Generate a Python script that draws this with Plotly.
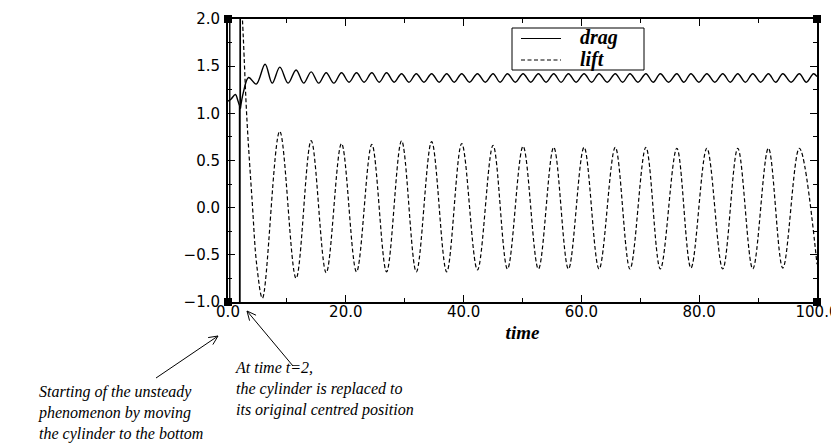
import math
import plotly.graph_objects as go

# ---------------- data ----------------
x_range = [0.0, 100.0]
y_range = [-1.0, 2.0]
x_tickvals = [0, 20, 40, 60, 80, 100]
x_ticktext = ["0.0", "20.0", "40.0", "60.0", "80.0", "100.0"]
y_tickvals = [-1.0, -0.5, 0.0, 0.5, 1.0, 1.5, 2.0]
y_ticktext = ["\u22121.0", "\u22120.5", "0.0", "0.5", "1.0", "1.5", "2.0"]
series_names = ["drag", "lift"]

# drag before the cylinder is replaced
drag_pre_t = [0.0, 0.5, 1.25, 1.7, 1.95]
drag_pre_v = [1.13, 1.15, 1.20, 1.13, 1.08]

# drag after t=2 (extrema)
drag_t = [2.1, 2.6, 3.5, 4.8, 6.3, 7.5, 8.8, 10.2, 11.56, 12.85, 14.12, 15.4, 16.67,
          17.97, 19.27, 20.55, 21.82, 23.1, 24.42, 25.67, 26.92, 28.2, 29.47, 30.72,
          31.97, 33.27, 34.57, 35.85, 37.13, 38.4, 39.68, 41.0, 42.35, 43.68, 45.0,
          46.2, 47.45, 48.78, 50.1, 51.4, 52.7, 54.0, 55.3, 56.55, 57.8, 59.1, 60.45,
          61.73, 63.0, 64.38, 65.75, 67.0, 68.25, 69.6, 70.95, 72.18, 73.4, 74.8,
          76.2, 77.4, 78.6, 79.95, 81.3, 82.65, 84.0, 85.28, 86.55, 87.83, 89.1,
          90.43, 91.75, 92.98, 94.2, 95.6, 97.0, 98.2, 99.4, 100.0]
drag_v = [1.05, 1.22, 1.38, 1.31, 1.52, 1.32, 1.49, 1.32, 1.46, 1.32, 1.44, 1.32, 1.43,
          1.32, 1.43, 1.33, 1.43, 1.33, 1.43, 1.33, 1.43, 1.33, 1.42, 1.33,
          1.42, 1.33, 1.42, 1.33, 1.42, 1.33, 1.42, 1.33, 1.42, 1.33, 1.42,
          1.33, 1.42, 1.33, 1.42, 1.33, 1.42, 1.33, 1.42, 1.33, 1.42, 1.33, 1.42,
          1.33, 1.42, 1.33, 1.42, 1.33, 1.42, 1.33, 1.42, 1.33, 1.42, 1.33,
          1.42, 1.33, 1.42, 1.33, 1.42, 1.33, 1.42, 1.33, 1.42, 1.33, 1.42,
          1.33, 1.42, 1.33, 1.42, 1.33, 1.42, 1.33, 1.42, 1.39]

# off-scale spikes (start and replacement of the cylinder)
spike_t = [0.3, 0.3, None, 1.95, 2.02, 2.06, 2.1]
spike_v = [-5.0, 5.0, None, 1.08, -5.0, 5.0, 1.05]

# lift after t=2 (initial descent + extrema)
lift_t = [2.15, 2.6, 3.2, 4.1, 4.9, 5.85, 8.78, 11.56, 14.12, 16.67, 19.27, 21.82,
          24.42, 26.92, 29.47, 31.97, 34.57, 37.13, 39.68, 42.35, 45.0, 47.45, 50.1,
          52.7, 55.3, 57.8, 60.45, 63.0, 65.75, 68.25, 70.95, 73.4, 76.2, 78.6,
          81.3, 84.0, 86.55, 89.1, 91.75, 94.2, 97.0, 100.0]
lift_v = [2.4, 1.8, 0.95, 0.07, -0.62, -0.96, 0.81, -0.75, 0.71, -0.69, 0.68, -0.68,
          0.67, -0.68, 0.71, -0.68, 0.70, -0.68, 0.68, -0.66, 0.66, -0.65, 0.65,
          -0.65, 0.64, -0.65, 0.64, -0.65, 0.64, -0.65, 0.64, -0.65, 0.63, -0.64,
          0.63, -0.65, 0.63, -0.65, 0.63, -0.64, 0.63, -0.60]

# ---------------- layout helpers ----------------
# page body has an 8px margin; positions below are in window pixels
OFF = 8
WIN_W, WIN_H = 839, 445
W_FIG, H_FIG = WIN_W - OFF, WIN_H - OFF
L, R, T, B = 228, 817, 19, 302          # plot frame in window pixels
PW, PH = R - L, B - T


def px(x):
    return (x - L) / PW


def py(y):
    return (B - y) / PH


serif = "Liberation Serif"
sans = "DejaVu Sans"
LIFT_DASH = "4px,2.5px"

fig = go.Figure()

fig.add_trace(go.Scatter(x=drag_pre_t, y=drag_pre_v, mode="lines", showlegend=False,
                         line=dict(color="black", width=1.4, shape="spline"), hoverinfo="skip"))
fig.add_trace(go.Scatter(x=spike_t, y=spike_v, mode="lines", showlegend=False,
                         line=dict(color="black", width=1.4), hoverinfo="skip"))
fig.add_trace(go.Scatter(x=drag_t, y=drag_v, mode="lines", name=series_names[0], showlegend=False,
                         line=dict(color="black", width=1.4, shape="spline")))
fig.add_trace(go.Scatter(x=lift_t, y=lift_v, mode="lines", name=series_names[1], showlegend=False,
                         line=dict(color="black", width=1.2, shape="spline", dash=LIFT_DASH)))

# corner squares on the frame
fig.add_trace(go.Scatter(x=[x_range[0], x_range[0], x_range[1], x_range[1]],
                         y=[y_range[0], y_range[1], y_range[0], y_range[1]],
                         mode="markers", showlegend=False, cliponaxis=False,
                         marker=dict(symbol="square", size=8, color="black"), hoverinfo="skip"))

axis_common = dict(showgrid=False, zeroline=False, showline=True, linecolor="black",
                   linewidth=2, mirror="allticks", ticks="inside", tickcolor="black",
                   tickwidth=1.2, ticklen=7,
                   tickfont=dict(family=sans, size=15, color="black"))

fig.update_xaxes(range=x_range, tickvals=x_tickvals, ticktext=x_ticktext, ticklabelstandoff=-5,
                 minor=dict(dtick=10, tick0=0, ticks="inside", ticklen=4, tickcolor="black", tickwidth=1),
                 title=dict(text="time", standoff=6,
                            font=dict(family=serif, size=19, color="black", style="italic", weight="bold")),
                 **axis_common)
fig.update_yaxes(range=y_range, tickvals=y_tickvals, ticktext=y_ticktext, ticklabelstandoff=3,
                 minor=dict(dtick=0.25, tick0=0, ticks="inside", ticklen=4, tickcolor="black", tickwidth=1),
                 **axis_common)

annotations = [
    dict(x=px(36), y=py(413), xref="paper", yref="paper", xanchor="left", yanchor="middle",
         align="left", showarrow=False,
         text="Starting of the unsteady<br>phenomenon by moving<br>the cylinder to the bottom",
         font=dict(family=serif, size=16, color="black", style="italic")),
    dict(x=px(233), y=py(389), xref="paper", yref="paper", xanchor="left", yanchor="middle",
         align="left", showarrow=False,
         text="At time t=2,<br>the cylinder is replaced to<br>its original centred position",
         font=dict(family=serif, size=16, color="black", style="italic")),
]

shapes = []

# arrows (tail -> head) in window pixels
arrows = [((156, 378), (218, 336)), ((293, 366), (247, 311))]
for (tx, ty), (hx, hy) in arrows:
    shapes.append(dict(type="line", xref="paper", yref="paper",
                       x0=px(tx), y0=py(ty), x1=px(hx), y1=py(hy),
                       line=dict(color="black", width=1)))
    dx, dy = hx - tx, hy - ty
    n = math.hypot(dx, dy)
    ux, uy = dx / n, dy / n
    for ang in (25, -25):
        a = math.radians(ang)
        rx = ux * math.cos(a) - uy * math.sin(a)
        ry = ux * math.sin(a) + uy * math.cos(a)
        wx, wy = hx - 10 * rx, hy - 10 * ry
        shapes.append(dict(type="line", xref="paper", yref="paper",
                           x0=px(hx), y0=py(hy), x1=px(wx), y1=py(wy),
                           line=dict(color="black", width=1)))

# legend box drawn by hand (window pixels)
LG_X0, LG_X1, LG_Y0, LG_Y1 = 512, 644, 28, 70
shapes.append(dict(type="rect", xref="paper", yref="paper",
                   x0=px(LG_X0), x1=px(LG_X1), y0=py(LG_Y1), y1=py(LG_Y0),
                   line=dict(color="black", width=1), fillcolor="white", layer="above"))
legend_rows = [(38.5, "solid", series_names[0]), (60, LIFT_DASH, series_names[1])]
for ry_, dash, name in legend_rows:
    shapes.append(dict(type="line", xref="paper", yref="paper",
                       x0=px(521), x1=px(561), y0=py(ry_), y1=py(ry_),
                       line=dict(color="black", width=1.2, dash=dash), layer="above"))
    annotations.append(dict(x=px(578), y=py(ry_ - 1), xref="paper", yref="paper",
                            xanchor="left", yanchor="middle", showarrow=False, text=name,
                            font=dict(family=serif, size=20, color="black",
                                      style="italic", weight="bold")))

fig.update_layout(
    width=W_FIG, height=H_FIG,
    margin=dict(l=L - OFF, r=WIN_W - R, t=T - OFF, b=WIN_H - B, autoexpand=False),
    paper_bgcolor="white", plot_bgcolor="white",
    showlegend=False,
    annotations=annotations,
    shapes=shapes,
)

fig.write_html("out.html")
